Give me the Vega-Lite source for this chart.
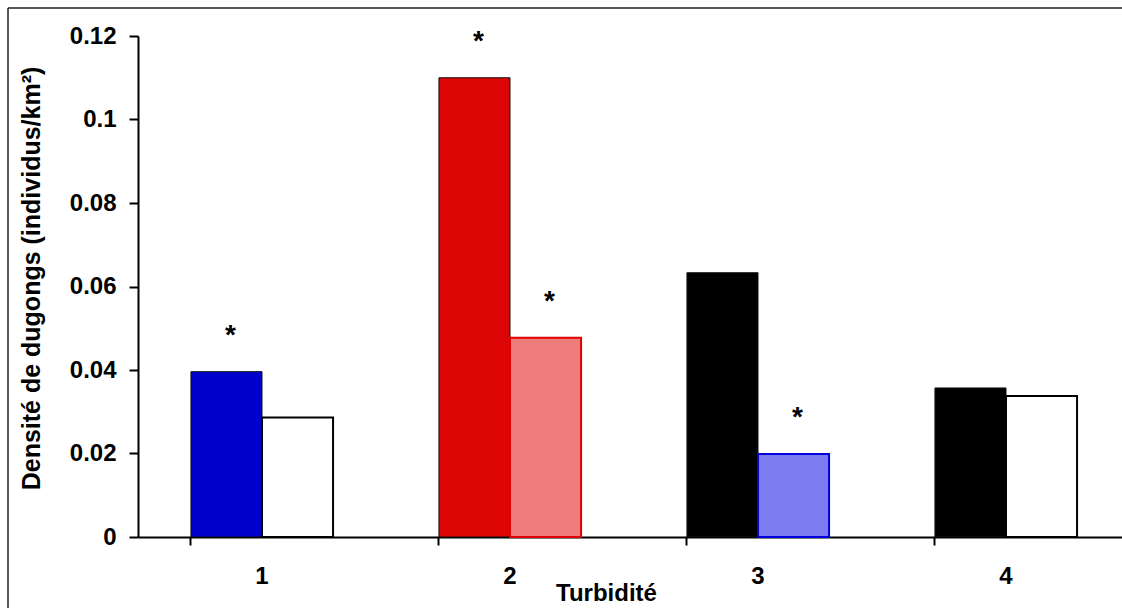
{
  "$schema": "https://vega.github.io/schema/vega-lite/v6.json",
  "autosize": {"type": "none"},
  "width": 984,
  "height": 501,
  "padding": {"left": 138, "top": 36, "right": 0, "bottom": 71},
  "background": "white",
  "config": {"view": {"stroke": null}, "font": "Liberation Sans"},
  "layer": [
    {
      "data": {"values": [{}]},
      "mark": {"type": "rule", "stroke": "#222222", "strokeWidth": 1.5, "clip": false},
      "encoding": {
        "x": {"value": -130},
        "y": {"value": -28},
        "x2": {"value": 1000}
      }
    },
    {
      "data": {"values": [{}]},
      "mark": {"type": "rule", "stroke": "#222222", "strokeWidth": 1.5, "clip": false},
      "encoding": {
        "x": {"value": -130},
        "y": {"value": -28},
        "y2": {"value": 600}
      }
    },
    {
      "data": {
        "name": "densites",
        "values": [
          {"turbidite": "1", "serie": "A", "densite": 0.0396, "selection": "évitement", "signif": "*"},
          {"turbidite": "1", "serie": "B", "densite": 0.0286, "selection": "neutre", "signif": ""},
          {"turbidite": "2", "serie": "A", "densite": 0.110, "selection": "préférence", "signif": "*"},
          {"turbidite": "2", "serie": "B", "densite": 0.0477, "selection": "préférence", "signif": "*"},
          {"turbidite": "3", "serie": "A", "densite": 0.0633, "selection": "neutre", "signif": ""},
          {"turbidite": "3", "serie": "B", "densite": 0.0199, "selection": "évitement", "signif": "*"},
          {"turbidite": "4", "serie": "A", "densite": 0.0357, "selection": "neutre", "signif": ""},
          {"turbidite": "4", "serie": "B", "densite": 0.0338, "selection": "neutre", "signif": ""}
        ]
      },
      "layer": [
        {
          "mark": {"type": "bar"},
          "encoding": {
            "x": {
              "field": "turbidite",
              "type": "nominal",
              "scale": {"range": [0, 992], "paddingInner": 0.427, "paddingOuter": 0.2135},
              "axis": {
                "title": "Turbidité",
                "labelAngle": 0,
                "bandPosition": 0,
                "domainColor": "black",
                "domainWidth": 2,
                "tickColor": "black",
                "tickWidth": 2,
                "tickSize": 8,
                "labelFont": "Liberation Sans",
                "labelFontSize": 24,
                "labelFontWeight": "bold",
                "labelColor": "black",
                "labelPadding": 19,
                "titleFont": "Liberation Sans",
                "titleFontSize": 24,
                "titleFontWeight": "bold",
                "titleColor": "black",
                "titleX": 468,
                "titleY": 63,
                "titleBaseline": "alphabetic"
              }
            },
            "xOffset": {"field": "serie", "type": "nominal", "scale": {"paddingInner": 0, "paddingOuter": 0}},
            "y": {
              "field": "densite",
              "type": "quantitative",
              "scale": {"domain": [0, 0.12], "nice": false},
              "axis": {
                "title": "Densité de dugongs (individus/km²)",
                "values": [0, 0.02, 0.04, 0.06, 0.08, 0.1, 0.12],
                "format": ".2~f",
                "grid": false,
                "domainColor": "black",
                "domainWidth": 2,
                "tickColor": "black",
                "tickWidth": 2,
                "tickSize": 9,
                "labelFont": "Liberation Sans",
                "labelFontSize": 24,
                "labelFontWeight": "bold",
                "labelColor": "black",
                "labelPadding": 13,
                "titleFont": "Liberation Sans",
                "titleFontSize": 25,
                "titleFontWeight": "bold",
                "titleColor": "black",
                "titlePadding": 25,
                "titleY": 242
              }
            },
            "fill": {
              "condition": [
                {"test": "datum.serie === 'A' && datum.selection === 'évitement'", "value": "#0000CC"},
                {"test": "datum.serie === 'A' && datum.selection === 'préférence'", "value": "#DD0606"},
                {"test": "datum.serie === 'A'", "value": "#000000"},
                {"test": "datum.selection === 'préférence'", "value": "#EF7D7D"},
                {"test": "datum.selection === 'évitement'", "value": "#7C7CEF"}
              ],
              "value": "#FFFFFF"
            },
            "stroke": {
              "condition": [
                {"test": "datum.serie === 'A'", "value": "#111111"},
                {"test": "datum.selection === 'préférence'", "value": "#E00000"},
                {"test": "datum.selection === 'évitement'", "value": "#0000DD"}
              ],
              "value": "#000000"
            },
            "strokeWidth": {
              "condition": {"test": "datum.serie === 'A'", "value": 1},
              "value": 2
            }
          }
        },
        {
          "mark": {"type": "text", "font": "Liberation Sans", "fontSize": 28, "fontWeight": "bold", "color": "black", "baseline": "alphabetic", "dy": -28, "dx": 4},
          "encoding": {
            "x": {"field": "turbidite", "type": "nominal"},
            "xOffset": {"field": "serie", "type": "nominal"},
            "y": {"field": "densite", "type": "quantitative"},
            "text": {"field": "signif"}
          }
        }
      ]
    }
  ]
}
